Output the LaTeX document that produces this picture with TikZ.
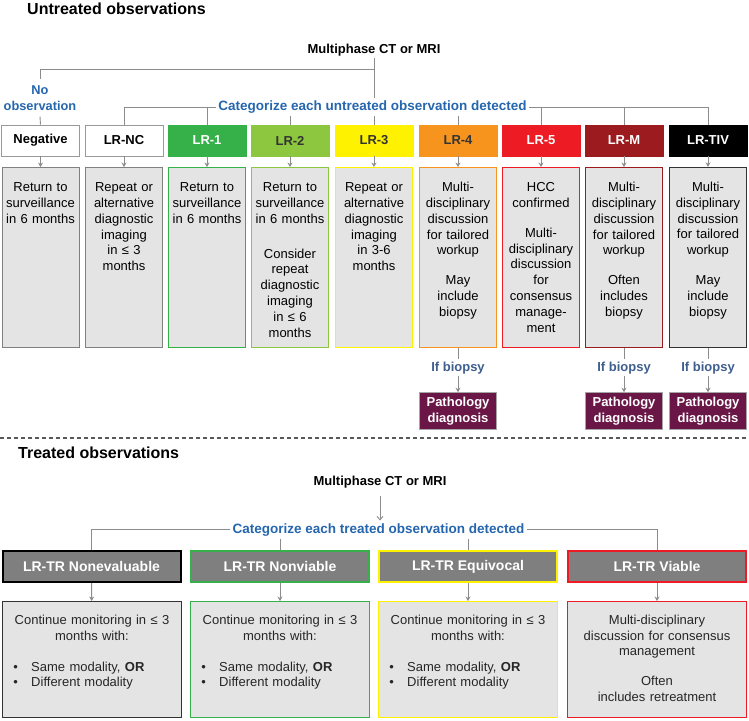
\documentclass[tikz,border=0pt]{standalone}
\usepackage{fontspec}
\setmainfont{Liberation Sans}
\usetikzlibrary{arrows.meta,positioning,calc}

\definecolor{linegray}{HTML}{8C8C8C}
\definecolor{boxgray}{HTML}{E4E4E4}
\definecolor{trgray}{HTML}{7F7F7F}
\definecolor{catblue}{HTML}{2566AE}
\definecolor{biopsyblue}{HTML}{3F5F8F}
\definecolor{darktext}{HTML}{333333}
\definecolor{lrgreen}{HTML}{36B14A}
\definecolor{lrlime}{HTML}{8DC63F}
\definecolor{lryellow}{HTML}{FFF200}
\definecolor{lrorange}{HTML}{F7941D}
\definecolor{lrred}{HTML}{ED1C24}
\definecolor{lrmaroon}{HTML}{9B1B1F}
\definecolor{pathpurple}{HTML}{6A1747}

\newcommand{\fsz}[2]{\fontsize{#1}{#2}\selectfont}
\newcommand{\trbullet}{\makebox[18pt][l]{\textbullet}}

\tikzset{
  conn/.style={draw=linegray, line width=0.9pt},
  arr/.style={conn, -{Stealth[length=4.5pt,width=5pt]}},
  arrline/.style={conn, -{Straight Barb[length=3.5pt,width=6pt]}},
  divider/.style={draw=black!65, line width=1.1pt, dash pattern=on 4pt off 3pt},
  title/.style={anchor=base west, inner sep=0pt, font=\fsz{16}{19}\bfseries},
  scan/.style={anchor=base, inner sep=2pt, font=\fsz{13}{16}\bfseries},
  cat/.style={anchor=base, fill=white, inner xsep=2.5pt, inner ysep=2.5pt, text=catblue, font=\fsz{13.5}{16}\bfseries},
  noobs/.style={anchor=base, align=center, text width=80pt, inner xsep=0pt, inner ysep=5.5pt, text=catblue, font=\fsz{12.8}{16.7}\bfseries},
  lrhead/.style={minimum width=78pt, minimum height=31pt, inner sep=0pt, line width=0.8pt, font=\fsz{13}{15}\bfseries},
  lrbox/.style={fill=boxgray, minimum width=77pt, minimum height=180pt, inner sep=0pt, line width=0.9pt},
  lrtext/.style={anchor=base, align=center, text width=78pt, inner sep=0pt, font=\fsz{13}{15.8}},
  ifbiopsy/.style={anchor=base, inner sep=2pt, text=biopsyblue, font=\fsz{13}{16}\bfseries},
  pathbox/.style={fill=pathpurple, draw=gray!70, line width=0.6pt, minimum width=77pt, minimum height=37pt, inner sep=0pt, align=center, text=white, font=\fsz{13}{16.5}\bfseries},
  trhead/.style={fill=trgray, line width=2pt, minimum width=178pt, minimum height=31pt, inner sep=0pt, text=white, font=\fsz{14}{16}\bfseries},
  trbox/.style={fill=boxgray, line width=0.9pt, minimum width=179pt, minimum height=116pt, inner sep=0pt},
  trtext/.style={anchor=base, align=center, text width=180pt, inner sep=0pt, text=black!85, font=\fsz{13}{15.5}},
  bullets/.style={anchor=base west, align=left, text width=165pt, inner sep=0pt, text=black!85, font=\fsz{13}{15}},
}

\begin{document}
\begin{tikzpicture}[x=1pt,y=-1pt]
\path[use as bounding box, fill=white] (0,0) rectangle (749,720);

% untreated observations
\node[title] (untreated) at (27,14) {Untreated observations};
\node[scan] (mp1) at (374,53.3) {Multiphase CT or MRI};
\node[cat] (cat1) at (372.5,110.7) {Categorize each untreated observation detected};
\node[noobs] (noobs) at (40,94) {No\\observation};

\node[lrhead, draw=gray!80, fill=white] (neg) at (40.5,140.5) {Negative};
\node[lrhead, draw=gray!80, fill=white] (lrnc) at (124,140.5) {LR-NC};
\node[lrhead, draw=lrgreen, fill=lrgreen, text=white] (lr1) at (207,140.5) {LR-1};
\node[lrhead, draw=lrlime, fill=lrlime, text=darktext] (lr2) at (290,140.5) {LR-2};
\node[lrhead, draw=lryellow, fill=lryellow, text=darktext] (lr3) at (374,140.5) {LR-3};
\node[lrhead, draw=lrorange, fill=lrorange, text=darktext] (lr4) at (458,140.5) {LR-4};
\node[lrhead, draw=lrred, fill=lrred, text=white] (lr5) at (541,140.5) {LR-5};
\node[lrhead, draw=lrmaroon, fill=lrmaroon, text=white] (lrm) at (624,140.5) {LR-M};
\node[lrhead, draw=black, fill=black, text=white] (lrtiv) at (708,140.5) {LR-TIV};

\node[lrbox, draw=gray] (rneg) at (40.5,257.5) {};
\node[lrbox, draw=gray] (rnc) at (124,257.5) {};
\node[lrbox, draw=lrgreen] (r1) at (207,257.5) {};
\node[lrbox, draw=lrlime] (r2) at (290,257.5) {};
\node[lrbox, draw=lryellow] (r3) at (374,257.5) {};
\node[lrbox, draw=lrorange] (r4) at (458,257.5) {};
\node[lrbox, draw=lrred] (r5) at (541,257.5) {};
\node[lrbox, draw=lrmaroon] (rm) at (624,257.5) {};
\node[lrbox, draw=darktext, line width=1.3pt] (rtiv) at (708,257.5) {};

\node[lrtext] at ([yshift=-24.7pt]rneg.north) {Return to\\surveillance\\in 6 months};
\node[lrtext] at ([yshift=-24.7pt]rnc.north) {Repeat or\\alternative\\diagnostic\\imaging\\in ≤ 3\\months};
\node[lrtext] at ([yshift=-24.7pt]r1.north) {Return to\\surveillance\\in 6 months};
\node[lrtext] at ([yshift=-24.7pt]r2.north) {Return to\\surveillance\\in 6 months\\[19pt]Consider\\repeat\\diagnostic\\imaging\\in ≤ 6\\months};
\node[lrtext] at ([yshift=-24.7pt]r3.north) {Repeat or\\alternative\\diagnostic\\imaging\\in 3-6\\months};
\node[lrtext] at ([yshift=-24.7pt]r4.north) {Multi-\\disciplinary\\discussion\\for tailored\\workup\\[14pt]May\\include\\biopsy};
\node[lrtext] at ([yshift=-24.7pt]r5.north) {HCC\\confirmed\\[14pt]Multi-\\disciplinary\\discussion\\for\\consensus\\manage-\\ment};
\node[lrtext] at ([yshift=-24.7pt]rm.north) {Multi-\\disciplinary\\discussion\\for tailored\\workup\\[14pt]Often\\includes\\biopsy};
\node[lrtext] at ([yshift=-24.7pt]rtiv.north) {Multi-\\disciplinary\\discussion\\for tailored\\workup\\[14pt]May\\include\\biopsy};

\node[ifbiopsy] (ib4) at (458,371) {If biopsy};
\node[ifbiopsy] (ibm) at (624,371) {If biopsy};
\node[ifbiopsy] (ibtiv) at (708,371) {If biopsy};
\node[pathbox] (p4) at (458,411) {Pathology\\diagnosis};
\node[pathbox] (pm) at (624,411) {Pathology\\diagnosis};
\node[pathbox] (ptiv) at (708,411) {Pathology\\diagnosis};

\coordinate (fork) at (374,69);
\draw[conn] (mp1.south) -- (mp1.south |- cat1.north);
\draw[conn] (fork) -| (noobs.north);
\draw[conn] (noobs.south) -- (neg.north);
\draw[conn] (cat1.west) -| (lrnc.north);
\draw[conn] (lr1.north |- cat1) -- (lr1.north);
\draw[conn] (lr2.north |- cat1.south) -- (lr2.north);
\draw[conn] (lr3.north |- cat1.south) -- (lr3.north);
\draw[conn] (lr4.north |- cat1.south) -- (lr4.north);
\draw[conn] (cat1.east) -| (lrtiv.north);
\draw[conn] (lr5.north |- cat1) -- (lr5.north);
\draw[conn] (lrm.north |- cat1) -- (lrm.north);

\draw[arr] (neg) -- (rneg);
\draw[arr] (lrnc) -- (rnc);
\draw[arr] (lr1) -- (r1);
\draw[arr] (lr2) -- (r2);
\draw[arr] (lr3) -- (r3);
\draw[arr] (lr4) -- (r4);
\draw[arr] (lr5) -- (r5);
\draw[arr] (lrm) -- (rm);
\draw[arr] (lrtiv) -- (rtiv);

\draw[conn] (r4.south) -- (ib4.north);
\draw[conn] (rm.south) -- (ibm.north);
\draw[conn] (rtiv.south) -- (ibtiv.north);
\draw[arr] (ib4) -- (p4);
\draw[arr] (ibm) -- (pm);
\draw[arr] (ibtiv) -- (ptiv);

\draw[divider] (0,438) -- (749,438);

% treated observations
\node[title] (treated) at (18,458.5) {Treated observations};
\node[scan] (mp2) at (380,485) {Multiphase CT or MRI};
\node[cat] (cat2) at (378.5,533) {Categorize each treated observation detected};

\node[trhead, draw=black] (trne) at (91.5,566.5) {LR-TR Nonevaluable};
\node[trhead, draw=lrgreen] (trnv) at (280,566.5) {LR-TR Nonviable};
\node[trhead, draw=lryellow] (treq) at (468,566.5) {LR-TR Equivocal};
\node[trhead, draw=lrred] (trv) at (657,566.5) {LR-TR Viable};

\node[trbox, draw=darktext] (cne) at (92,659.5) {};
\node[trbox, draw=lrgreen] (cnv) at (280,659.5) {};
\node[trbox, draw=lryellow] (ceq) at (468,659.5) {};
\node[trbox, draw=lrred] (cv) at (657,659.5) {};

\node[trtext] at ([yshift=-23.5pt]cne.north) {Continue monitoring in ≤ 3\\months with:};
\node[bullets] at ([xshift=11pt,yshift=-70.5pt]cne.north west) {\trbullet Same modality, \textbf{OR}\\\trbullet Different modality};
\node[trtext] at ([yshift=-23.5pt]cnv.north) {Continue monitoring in ≤ 3\\months with:};
\node[bullets] at ([xshift=11pt,yshift=-70.5pt]cnv.north west) {\trbullet Same modality, \textbf{OR}\\\trbullet Different modality};
\node[trtext] at ([yshift=-23.5pt]ceq.north) {Continue monitoring in ≤ 3\\months with:};
\node[bullets] at ([xshift=11pt,yshift=-70.5pt]ceq.north west) {\trbullet Same modality, \textbf{OR}\\\trbullet Different modality};
\node[trtext] at ([yshift=-23.5pt]cv.north) {Multi-disciplinary\\discussion for consensus\\management\\[14.5pt]Often\\includes retreatment};

\draw[arrline, shorten <=6pt] (mp2.south) -- (mp2.south |- cat2.north);
\draw[conn] (cat2.west) -| (trne.north);
\draw[conn] (trnv.north |- cat2.south) -- (trnv.north);
\draw[conn] (treq.north |- cat2.south) -- (treq.north);
\draw[conn] (cat2.east) -| (trv.north);

\draw[arr] (trne) -- (cne);
\draw[arr] (trnv) -- (cnv);
\draw[arr] (treq) -- (ceq);
\draw[arr] (trv) -- (cv);
\end{tikzpicture}
\end{document}
